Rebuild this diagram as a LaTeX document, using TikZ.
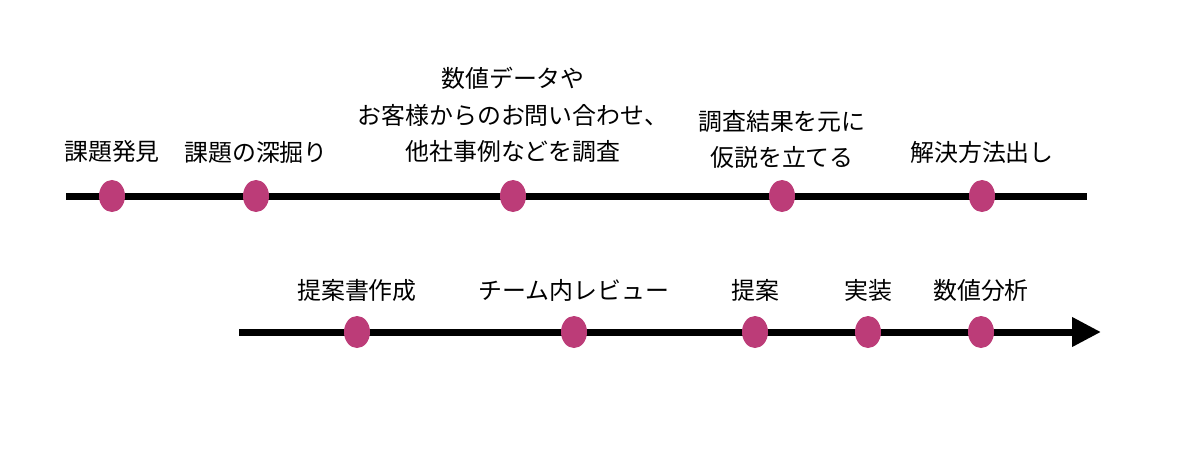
\documentclass[tikz,border=0pt]{standalone}
\usepackage{fontspec}
\setmainfont{Noto Sans CJK JP}
\usepackage{tikz}
\usetikzlibrary{arrows.meta, shapes.geometric}
\definecolor{dotpink}{RGB}{188,60,120}
\tikzset{
  dot/.style={ellipse, fill=dotpink, inner sep=0pt, minimum width=0.65cm, minimum height=0.8cm},
  lbl/.style={align=center, inner sep=0pt, font=\fontsize{17}{26}\selectfont},
  tline/.style={line width=0.175cm, black}
}
\begin{document}
\begin{tikzpicture}[x=0.025cm, y=-0.025cm]
  \useasboundingbox (0,0) rectangle (1200,467);
  % 上段の線
  \coordinate (s1) at (66,196);
  \coordinate (e1) at (1087,196);
  \draw[tline] (s1) -- (e1);
  % 下段の矢印
  \coordinate (s2) at (239,332);
  \coordinate (e2) at (1101,332);
  \draw[tline, -{Triangle[length=0.725cm, width=0.7cm]}] (s2) -- (e2);
  % 上段の点とラベル
  \node[dot] (a1) at (112,196) {};
  \node[dot] (a2) at (256,196) {};
  \node[dot] (a3) at (513,196) {};
  \node[dot] (a4) at (782,196) {};
  \node[dot] (a5) at (982,196) {};
  \node[lbl] (la1) at (112,152) {課題発見};
  \node[lbl] (la2) at (256,152) {課題の深掘り};
  \node[lbl] (la3) at (513,115) {数値データや\\お客様からのお問い合わせ、\\他社事例などを調査};
  \node[lbl] (la4) at (782,139.5) {調査結果を元に\\仮説を立てる};
  \node[lbl] (la5) at (982,152) {解決方法出し};
  % 下段の点とラベル
  \node[dot] (b1) at (357,332) {};
  \node[dot] (b2) at (574,332) {};
  \node[dot] (b3) at (755,332) {};
  \node[dot] (b4) at (868,332) {};
  \node[dot] (b5) at (981,332) {};
  \node[lbl] (lb1) at (357,290) {提案書作成};
  \node[lbl] (lb2) at (574,290) {チーム内レビュー};
  \node[lbl] (lb3) at (755,290) {提案};
  \node[lbl] (lb4) at (868,290) {実装};
  \node[lbl] (lb5) at (981,290) {数値分析};
\end{tikzpicture}
\end{document}
